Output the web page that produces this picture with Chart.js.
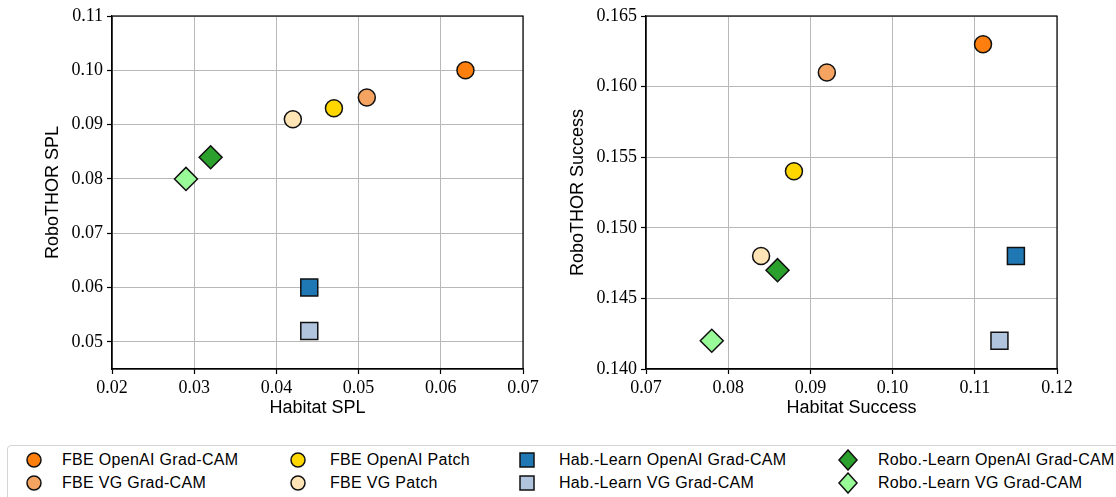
<!DOCTYPE html>
<html>
<head>
<meta charset="utf-8">
<script src="https://cdn.jsdelivr.net/npm/chart.js@4.4.1/dist/chart.umd.min.js"></script>
<style>
  html, body { margin: 0; padding: 0; background: #fff; }
  body { width: 1116px; height: 497px; overflow: hidden; position: relative; font-family: "Liberation Sans", sans-serif; }
  .panel { position: absolute; top: 0; }
  #legend { position: absolute; left: 7px; top: 445px; width: 1140px; height: 70px; border: 1px solid #d4d4d4; border-radius: 4px; box-sizing: border-box; }
  .item { position: absolute; font-size: 16px; letter-spacing: 0.3px; color: #000; white-space: nowrap; line-height: 20px; }
  .mk { position: absolute; }
</style>
</head>
<body>
<div class="panel" style="left:0px;width:556px;height:430px;"><canvas id="c1" width="556" height="430"></canvas></div>
<div class="panel" style="left:556px;width:560px;height:430px;"><canvas id="c2" width="560" height="430"></canvas></div>
<div id="legend"></div>
<script>
// ---- data ----
const categories = ['FBE OpenAI Grad-CAM', 'FBE VG Grad-CAM', 'FBE OpenAI Patch', 'FBE VG Patch',
                    'Hab.-Learn OpenAI Grad-CAM', 'Hab.-Learn VG Grad-CAM',
                    'Robo.-Learn OpenAI Grad-CAM', 'Robo.-Learn VG Grad-CAM'];
const habitatSPL      = [0.063, 0.051, 0.047, 0.042, 0.044, 0.044, 0.032, 0.029];
const robothorSPL     = [0.100, 0.095, 0.093, 0.091, 0.060, 0.052, 0.084, 0.080];
const habitatSuccess  = [0.111, 0.092, 0.088, 0.084, 0.115, 0.113, 0.086, 0.078];
const robothorSuccess = [0.163, 0.161, 0.154, 0.148, 0.148, 0.142, 0.147, 0.142];

const splXTicks = [0.02, 0.03, 0.04, 0.05, 0.06, 0.07];
const splYTicks = [0.05, 0.06, 0.07, 0.08, 0.09, 0.10, 0.11];
const sucXTicks = [0.07, 0.08, 0.09, 0.10, 0.11, 0.12];
const sucYTicks = [0.140, 0.145, 0.150, 0.155, 0.160, 0.165];

// ---- styles ----
const colors = ['#ff7f0e', '#f4a460', '#ffd700', '#ffe4b5', '#1f77b4', '#b0c4de', '#2ca02c', '#98fb98'];
const shapes = ['circle', 'circle', 'circle', 'circle', 'rect', 'rect', 'rectRot', 'rectRot'];
const radii  = { circle: 8.5, rect: 12, rectRot: 11.5 };

const frame = {
  id: 'frame',
  beforeDatasetsDraw(chart) {
    const { ctx, chartArea: a } = chart;
    ctx.save();
    ctx.strokeStyle = '#000';
    ctx.lineWidth = 1.2;
    ctx.strokeRect(a.left, a.top, a.right - a.left, a.bottom - a.top);
    ctx.restore();
  }
};

function makeChart(id, xs, ys, xr, yr, xTicks, yTicks, xDec, yDec, xTitle, yTitle, pad, yWidth) {
  const datasets = categories.map((name, i) => ({
    label: name,
    data: [{ x: xs[i], y: ys[i] }],
    pointStyle: shapes[i],
    pointRadius: radii[shapes[i]],
    pointHoverRadius: radii[shapes[i]],
    backgroundColor: colors[i],
    borderColor: '#111',
    borderWidth: 1.5,
    order: 10 - i
  }));
  const tickFont = { family: 'Liberation Serif', size: 18 };
  const titleFont = { family: 'Liberation Sans', size: 18 };
  const grid = { color: '#b8b8b8', lineWidth: 1, tickColor: '#000', tickLength: 5, tickWidth: 1.2, drawTicks: true };
  return new Chart(document.getElementById(id), {
    type: 'scatter',
    data: { datasets },
    plugins: [frame],
    options: {
      responsive: false,
      animation: false,
      events: [],
      layout: { padding: pad },
      plugins: { legend: { display: false }, tooltip: { enabled: false } },
      scales: {
        x: {
          type: 'linear', min: xr[0], max: xr[1],
          afterBuildTicks: s => { s.ticks = xTicks.map(v => ({ value: v })); },
          afterFit: s => { s.height = 50; },
          grid: grid,
          border: { color: '#000', width: 1.2 },
          ticks: { color: '#000', font: tickFont, padding: 3, maxRotation: 0, autoSkip: false,
                   callback: v => Number(v).toFixed(xDec) },
          title: { display: true, text: xTitle, color: '#000', font: titleFont, padding: 0 }
        },
        y: {
          type: 'linear', min: yr[0], max: yr[1],
          afterBuildTicks: s => { s.ticks = yTicks.map(v => ({ value: v })); },
          afterFit: s => { s.width = yWidth; },
          grid: grid,
          border: { color: '#000', width: 1.2 },
          ticks: { color: '#000', font: tickFont, padding: 4, autoSkip: false,
                   callback: v => Number(v).toFixed(yDec) },
          title: { display: true, text: yTitle, color: '#000', font: titleFont, padding: 0 }
        }
      }
    }
  });
}

makeChart('c1', habitatSPL, robothorSPL, [0.02, 0.07], [0.045, 0.11], splXTicks, splYTicks, 2, 2,
          'Habitat SPL', 'RoboTHOR SPL', { left: 42, right: 33, top: 16, bottom: 11 }, 70);
makeChart('c2', habitatSuccess, robothorSuccess, [0.07, 0.12], [0.14, 0.165], sucXTicks, sucYTicks, 2, 3,
          'Habitat Success', 'RoboTHOR Success', { left: 11, right: 59, top: 16, bottom: 11 }, 79);

// ---- legend (HTML) ----
const legend = document.getElementById('legend');
const colMarkX = [34, 298, 527, 848];
const colTextX = [62, 330, 559, 878];
const rowY = [460, 483];
const lx = 8, ly = 446;
categories.forEach((name, i) => {
  const col = Math.floor(i / 2), row = i % 2;
  const cx = colMarkX[col] - lx, cy = rowY[row] - ly;
  const s = 22;
  let shape;
  if (shapes[i] === 'circle') shape = `<circle cx="11" cy="11" r="7" fill="${colors[i]}" stroke="#111" stroke-width="1.5"/>`;
  else if (shapes[i] === 'rect') shape = `<rect x="4" y="4" width="14" height="14" fill="${colors[i]}" stroke="#111" stroke-width="1.5"/>`;
  else shape = `<polygon points="11,1 20,11 11,21 2,11" fill="${colors[i]}" stroke="#111" stroke-width="1.5"/>`;
  const m = document.createElement('div');
  m.className = 'mk';
  m.style.left = (cx - s / 2) + 'px';
  m.style.top = (cy - s / 2) + 'px';
  m.innerHTML = `<svg width="${s}" height="${s}">${shape}</svg>`;
  legend.appendChild(m);
  const t = document.createElement('div');
  t.className = 'item';
  t.textContent = name;
  t.style.left = (colTextX[col] - lx) + 'px';
  t.style.top = (cy - 10) + 'px';
  legend.appendChild(t);
});
</script>
</body>
</html>
